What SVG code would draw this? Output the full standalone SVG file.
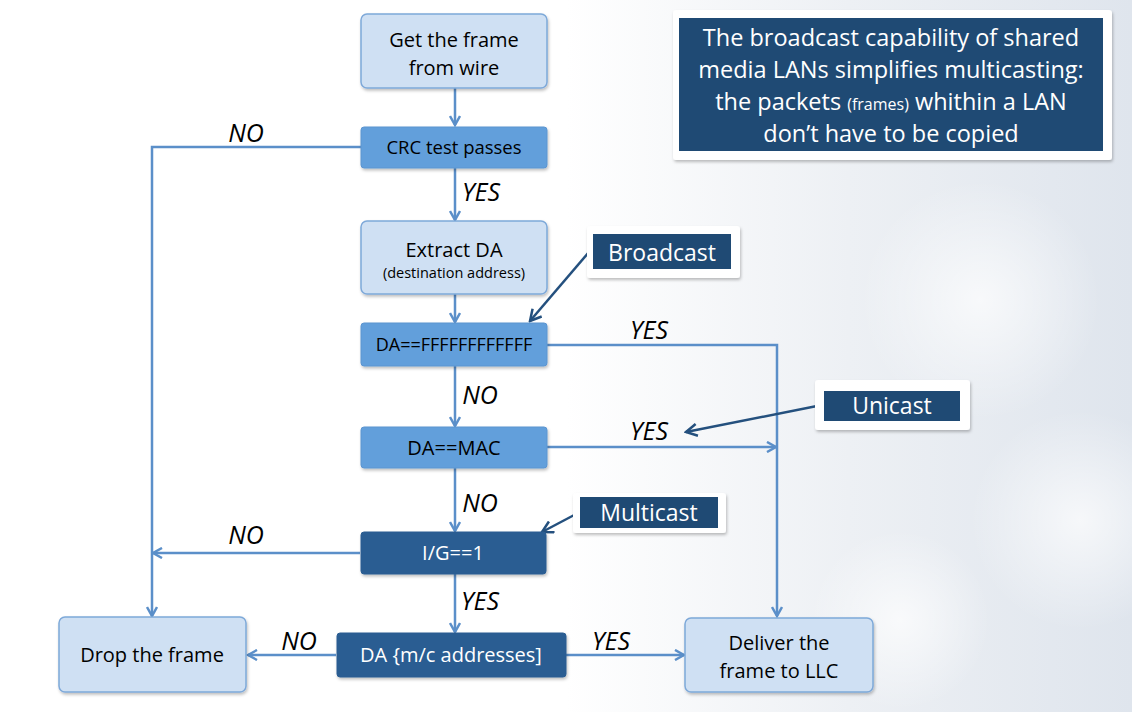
<svg xmlns="http://www.w3.org/2000/svg" width="1132" height="712" viewBox="0 0 1132 712">
<defs>
<linearGradient id="bg" x1="0" y1="0" x2="1" y2="0">
<stop offset="0" stop-color="#ffffff"/>
<stop offset="0.5" stop-color="#ffffff"/>
<stop offset="0.75" stop-color="#edf0f4"/>
<stop offset="1" stop-color="#dfe5ed"/>
</linearGradient>
<radialGradient id="blob" cx="0.5" cy="0.5" r="0.5">
<stop offset="0" stop-color="#ffffff" stop-opacity="0.7"/>
<stop offset="1" stop-color="#ffffff" stop-opacity="0"/>
</radialGradient>
<filter id="sh" x="-10%" y="-10%" width="130%" height="140%">
<feDropShadow dx="1" dy="2" stdDeviation="1.5" flood-color="#000" flood-opacity="0.25"/>
</filter>
<marker id="ah" markerWidth="12" markerHeight="12" refX="10" refY="6" orient="auto" markerUnits="userSpaceOnUse">
<path d="M1,1 L10,6 L1,11" fill="none" stroke="#5b8fc9" stroke-width="2.5"/>
</marker>
<marker id="ahd" markerWidth="14" markerHeight="14" refX="12" refY="7" orient="auto" markerUnits="userSpaceOnUse">
<path d="M1,1 L12,7 L1,13" fill="none" stroke="#24507e" stroke-width="2.5"/>
</marker>
</defs>
<style>
text{font-family:"Open Sans","Liberation Sans",sans-serif;text-anchor:middle;}
.light{fill:#cfe0f3;stroke:#7ea9d9;stroke-width:1.5;}
.mid{fill:#629fdb;stroke:#5b95d0;stroke-width:1;}
.dark{fill:#2b5d92;stroke:#2b5d92;stroke-width:1;}
.wb{fill:#ffffff;}
.nb{fill:#1f4a74;}
.t{font-size:20px;fill:#000;}
.tw{font-size:20px;fill:#fff;}
.lbl{font-size:25px;font-style:italic;fill:#000;}
.note{font-size:23.5px;fill:#fff;}
.con{fill:none;stroke:#5b8fc9;stroke-width:2.5;}
.pt{fill:none;stroke:#24507e;stroke-width:2.5;}
</style>
<rect width="1132" height="712" fill="url(#bg)"/>
<circle cx="980" cy="300" r="120" fill="url(#blob)"/>
<circle cx="1080" cy="520" r="110" fill="url(#blob)"/>
<circle cx="900" cy="620" r="90" fill="url(#blob)"/>

<g id="connectors">
<line class="con" x1="455" y1="88" x2="455" y2="125" marker-end="url(#ah)"/>
<line class="con" x1="455" y1="168" x2="455" y2="220" marker-end="url(#ah)"/>
<line class="con" x1="455" y1="294" x2="455" y2="322" marker-end="url(#ah)"/>
<line class="con" x1="455" y1="366" x2="455" y2="426" marker-end="url(#ah)"/>
<line class="con" x1="455" y1="468" x2="455" y2="531" marker-end="url(#ah)"/>
<line class="con" x1="455" y1="574" x2="455" y2="632" marker-end="url(#ah)"/>
<polyline class="con" points="361,147 152,147 152,616" marker-end="url(#ah)"/>
<line class="con" x1="360" y1="553" x2="153" y2="553" marker-end="url(#ah)"/>
<polyline class="con" points="547,345 777,345 777,616" marker-end="url(#ah)"/>
<line class="con" x1="547" y1="447" x2="776" y2="447" marker-end="url(#ah)"/>
<line class="con" x1="336" y1="655" x2="248" y2="655" marker-end="url(#ah)"/>
<line class="con" x1="566" y1="655" x2="684" y2="655" marker-end="url(#ah)"/>
<line class="pt" x1="589" y1="252" x2="530" y2="321" marker-end="url(#ahd)"/>
<line class="pt" x1="822" y1="405" x2="686" y2="432" marker-end="url(#ahd)"/>
<line class="pt" x1="578" y1="513" x2="542" y2="532" marker-end="url(#ahd)"/>
<text class="lbl" x="246" y="142">NO</text>
<text class="lbl" x="481" y="201">YES</text>
<text class="lbl" x="649" y="339">YES</text>
<text class="lbl" x="480" y="404">NO</text>
<text class="lbl" x="649" y="440">YES</text>
<text class="lbl" x="480" y="512">NO</text>
<text class="lbl" x="246" y="544">NO</text>
<text class="lbl" x="480" y="610">YES</text>
<text class="lbl" x="299" y="650">NO</text>
<text class="lbl" x="611" y="650">YES</text>
</g>

<g id="get-frame">
<rect class="light" x="361" y="14" width="186" height="74" rx="6" filter="url(#sh)"/>
<text class="t" x="454" y="47">Get the frame</text>
<text class="t" x="454" y="75">from wire</text>
</g>
<g id="crc">
<rect class="mid" x="361" y="127" width="186" height="41" rx="3" filter="url(#sh)"/>
<text x="454" y="154" style="font-size:18.5px;fill:#000">CRC test passes</text>
</g>
<g id="extract">
<rect class="light" x="361" y="221" width="186" height="73" rx="6" filter="url(#sh)"/>
<text class="t" x="454" y="257">Extract DA</text>
<text x="454" y="278" style="font-size:14.5px;fill:#000">(destination address)</text>
</g>
<g id="da-broadcast">
<rect class="mid" x="361" y="323" width="186" height="43" rx="3" filter="url(#sh)"/>
<text x="454" y="351" style="font-size:18px;fill:#000">DA==FFFFFFFFFFFF</text>
</g>
<g id="da-mac">
<rect class="mid" x="361" y="427" width="186" height="41" rx="3" filter="url(#sh)"/>
<text class="t" x="454" y="455">DA==MAC</text>
</g>
<g id="ig">
<rect class="dark" x="361" y="532" width="185" height="42" rx="3" filter="url(#sh)"/>
<text class="tw" x="453" y="560">I/G==1</text>
</g>
<g id="da-mc">
<rect class="dark" x="337" y="633" width="229" height="44" rx="3" filter="url(#sh)"/>
<text class="tw" x="451" y="662">DA {m/c addresses]</text>
</g>
<g id="drop">
<rect class="light" x="59" y="617" width="187" height="75" rx="6" filter="url(#sh)"/>
<text class="t" x="152" y="662">Drop the frame</text>
</g>
<g id="deliver">
<rect class="light" x="685" y="618" width="188" height="74" rx="6" filter="url(#sh)"/>
<text class="t" x="779" y="650">Deliver the</text>
<text class="t" x="779" y="678">frame to LLC</text>
</g>

<g id="note-broadcast">
<rect class="wb" x="587" y="226" width="153" height="52" rx="3" filter="url(#sh)"/>
<rect class="nb" x="593" y="234" width="138" height="35"/>
<text x="662" y="261" style="font-size:23px;fill:#fff">Broadcast</text>
</g>
<g id="note-unicast">
<rect class="wb" x="815" y="380" width="155" height="50" rx="3" filter="url(#sh)"/>
<rect class="nb" x="824" y="391" width="136" height="30"/>
<text x="892" y="414" style="font-size:23px;fill:#fff">Unicast</text>
</g>
<g id="note-multicast">
<rect class="wb" x="573" y="493" width="153" height="40" rx="3" filter="url(#sh)"/>
<rect class="nb" x="580" y="497" width="138" height="31"/>
<text x="649" y="521" style="font-size:23px;fill:#fff">Multicast</text>
</g>
<g id="note-top">
<rect class="wb" x="673" y="10" width="439" height="150" rx="3" filter="url(#sh)"/>
<rect class="nb" x="679" y="18" width="424" height="133"/>
<text class="note" x="891" y="46">The broadcast capability of shared</text>
<text class="note" x="891" y="78">media LANs simplifies multicasting:</text>
<text class="note" x="891" y="110">the packets <tspan style="font-size:16px">(frames)</tspan> whithin a LAN</text>
<text class="note" x="891" y="142">don’t have to be copied</text>
</g>
</svg>
